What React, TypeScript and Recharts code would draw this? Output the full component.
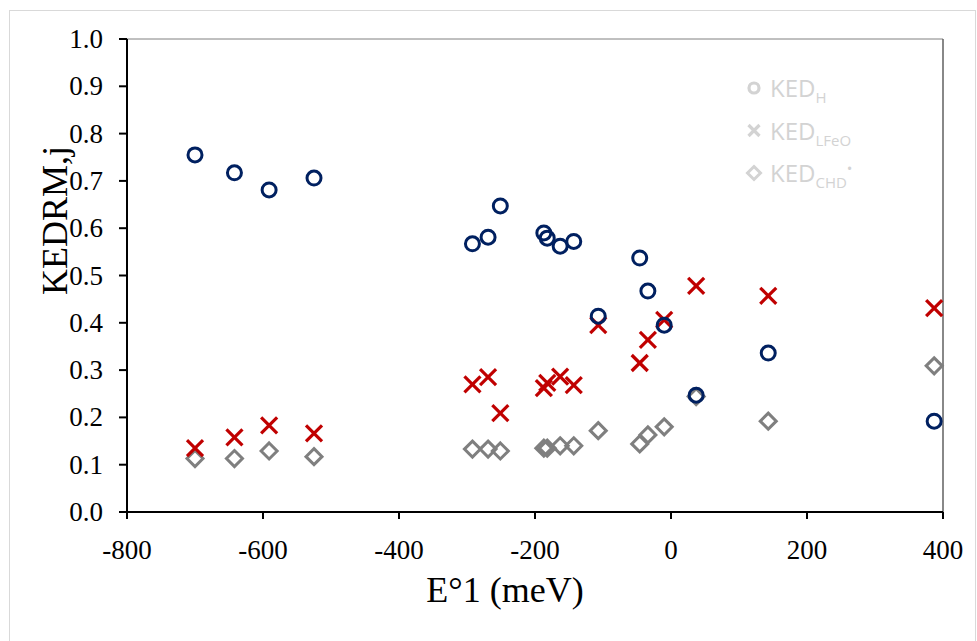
import React from 'react';
import {
  ScatterChart, Scatter, XAxis, YAxis, ReferenceLine,
} from 'recharts';

// E°1 values (meV) shared by the three series
const e1 = [-700, -642, -591, -525, -292, -269, -251, -187, -182, -163, -143, -107, -46, -34, -10, 37, 143, 387];

const kedH = [0.755, 0.717, 0.681, 0.706, 0.567, 0.581, 0.647, 0.59, 0.579, 0.562, 0.572, 0.414, 0.537, 0.467, 0.395, 0.247, 0.336, 0.192];
const kedLFeO = [0.135, 0.158, 0.183, 0.166, 0.27, 0.285, 0.209, 0.262, 0.273, 0.286, 0.268, 0.395, 0.315, 0.364, 0.406, 0.478, 0.457, 0.431];
const kedCHD = [0.113, 0.113, 0.129, 0.117, 0.133, 0.133, 0.129, 0.135, 0.135, 0.14, 0.14, 0.172, 0.144, 0.163, 0.18, 0.244, 0.192, 0.309];

const xTicks = [-800, -600, -400, -200, 0, 200, 400];
const yTicks = [0, 0.1, 0.2, 0.3, 0.4, 0.5, 0.6, 0.7, 0.8, 0.9, 1.0];

const NAVY = '#002060';
const RED = '#c00000';
const GRAY = '#7f7f7f';
const LEGEND_GRAY = '#d3d3d3';

const toPoints = (ys: number[]) => e1.map((x, i) => ({ x, y: ys[i] }));

const CircleMark = (p: any) => (
  <circle cx={p.cx} cy={p.cy} r={7} fill="none" stroke={NAVY} strokeWidth={3} />
);

const CrossMark = (p: any) => {
  const s = 8;
  return (
    <g stroke={RED} strokeWidth={3.2}>
      <line x1={p.cx - s} y1={p.cy - s} x2={p.cx + s} y2={p.cy + s} />
      <line x1={p.cx - s} y1={p.cy + s} x2={p.cx + s} y2={p.cy - s} />
    </g>
  );
};

const DiamondMark = (p: any) => {
  const s = 8;
  return (
    <polygon
      points={`${p.cx},${p.cy - s} ${p.cx + s},${p.cy} ${p.cx},${p.cy + s} ${p.cx - s},${p.cy}`}
      fill="none" stroke={GRAY} strokeWidth={3}
    />
  );
};

const sansFont = '"Open Sans", "Noto Sans", sans-serif';
const serif = '"Liberation Serif", "Times New Roman", serif';

const XTick = (p: any) => (
  <text x={p.x} y={p.y} dy={19} textAnchor="middle" fontFamily={serif} fontSize={27} fill="#000">
    {p.payload.value}
  </text>
);

const YTick = (p: any) => (
  <text x={p.x} y={p.y} dy={9} textAnchor="end" fontFamily={serif} fontSize={27} fill="#000">
    {Number(p.payload.value).toFixed(1)}
  </text>
);

const LegendBox = () => {
  const rows = [
    { sub: 'H', sup: '' },
    { sub: 'LFeO', sup: '' },
    { sub: 'CHD', sup: '•' },
  ];
  return (
    <svg width={150} height={130} style={{ overflow: 'visible' }}>
      {rows.map((r, i) => {
        const cy = 18 + i * 42.5;
        return (
          <g key={r.sub}>
            {i === 0 && <circle cx={9} cy={cy} r={5} fill="none" stroke={LEGEND_GRAY} strokeWidth={3.2} />}
            {i === 1 && (
              <g stroke={LEGEND_GRAY} strokeWidth={3.2}>
                <line x1={3.5} y1={cy - 5.5} x2={14.5} y2={cy + 5.5} />
                <line x1={3.5} y1={cy + 5.5} x2={14.5} y2={cy - 5.5} />
              </g>
            )}
            {i === 2 && (
              <polygon points={`9,${cy - 6.5} 15.5,${cy} 9,${cy + 6.5} 2.5,${cy}`} fill="none" stroke={LEGEND_GRAY} strokeWidth={3} />
            )}
            <text x={25} y={cy + 9} fill={LEGEND_GRAY} fontFamily={sansFont} fontSize={24}>
              KED
              <tspan fontSize={15} dy={6}>{r.sub}</tspan>
              {r.sup && <tspan fontSize={15} dy={-14}>{r.sup}</tspan>}
            </text>
          </g>
        );
      })}
    </svg>
  );
};

export default function App() {
  return (
    <div style={{ position: 'absolute', left: 0, top: 0, width: 977, height: 641, background: '#fff', overflow: 'hidden' }}>
      <div style={{ position: 'absolute', left: 9, top: 10, width: 967, height: 640, border: '1px solid #d9d9d9', boxSizing: 'border-box' }} />
      <div style={{ position: 'absolute', left: 0, top: 0 }}>
        <ScatterChart width={977} height={641} margin={{ top: 39, right: 34, bottom: 69, left: 47 }}>
          <XAxis
            type="number"
            dataKey="x"
            domain={[-800, 400]}
            ticks={xTicks}
            interval={0}
            height={60}
            stroke="#000"
            strokeWidth={2}
            tickSize={7}
            tickMargin={21}
            tick={XTick}
            label={{
              content: ({ viewBox }: any) => (
                <text x={viewBox.x + viewBox.width / 2 - 30} y={602} textAnchor="middle" fontFamily={serif} fontSize={36} fill="#000">
                  E°1 (meV)
                </text>
              ),
            }}
          />
          <YAxis
            type="number"
            dataKey="y"
            domain={[0, 1]}
            ticks={yTicks}
            interval={0}
            width={80}
            stroke="#000"
            strokeWidth={2}
            tickSize={8}
            tickMargin={16}
            tick={YTick}
            label={{
              content: ({ viewBox }: any) => {
                const x = viewBox.x + 20;
                const y = viewBox.y + viewBox.height / 2 - 55;
                return (
                  <text x={x} y={y} transform={`rotate(-90 ${x} ${y})`} textAnchor="middle" fontFamily={serif} fontSize={36} fill="#000">
                    KEDRM,j
                  </text>
                );
              },
            }}
          />
          <ReferenceLine y={1} stroke="#808080" strokeWidth={1} />
          <ReferenceLine x={400} stroke="#606060" strokeWidth={1.5} />
          <Scatter name="KED_CHD" data={toPoints(kedCHD)} shape={DiamondMark} isAnimationActive={false} />
          <Scatter name="KED_LFeO" data={toPoints(kedLFeO)} shape={CrossMark} isAnimationActive={false} />
          <Scatter name="KED_H" data={toPoints(kedH)} shape={CircleMark} isAnimationActive={false} />
        </ScatterChart>
      </div>
      <div style={{ position: 'absolute', left: 745, top: 70 }}>
        <LegendBox />
      </div>
    </div>
  );
}
